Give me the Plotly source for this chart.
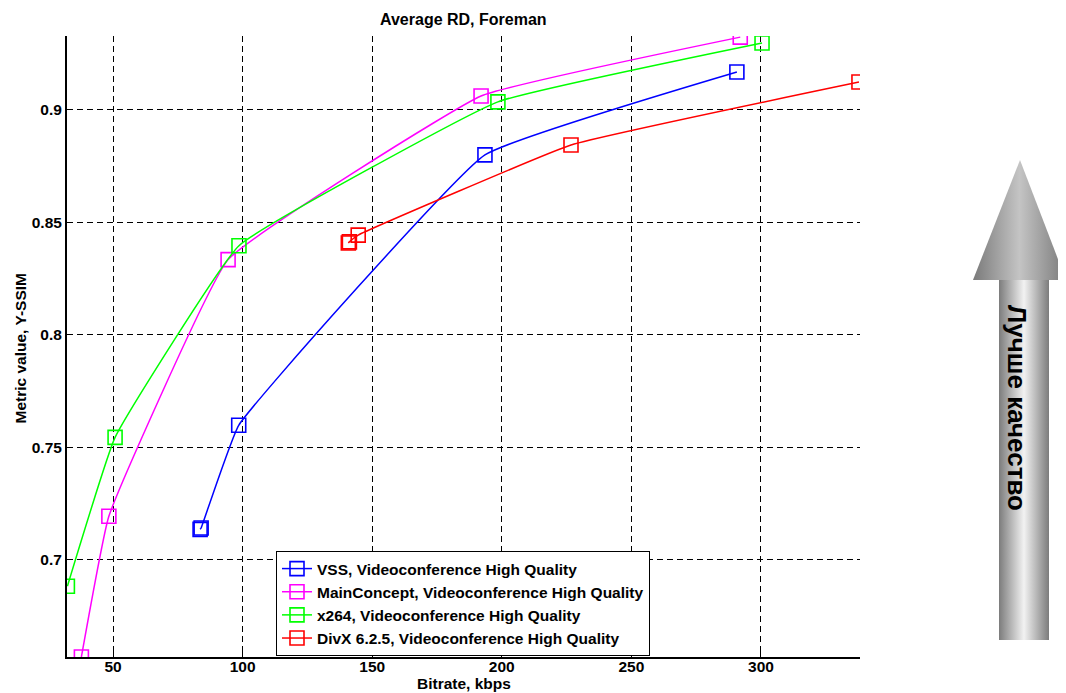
import plotly.graph_objects as go

# ---- data ----
vss_x = [83.6, 84.0, 98.5, 193.5, 290.7]
vss_y = [0.7134, 0.7140, 0.7597, 0.8800, 0.9169]
mc_x = [37.8, 48.4, 94.4, 192.0, 292.0]
mc_y = [0.6566, 0.7192, 0.8334, 0.9062, 0.9324]
x264_x = [32.4, 50.8, 98.6, 198.5, 300.4]
x264_y = [0.6881, 0.7543, 0.8396, 0.9036, 0.9298]
divx_x = [140.8, 141.2, 144.6, 226.7, 337.8]
divx_y = [0.8408, 0.8413, 0.8443, 0.8844, 0.9124]

series = [
    ("VSS, Videoconference High Quality", vss_x, vss_y, "#0000ff"),
    ("MainConcept, Videoconference High Quality", mc_x, mc_y, "#ff00ff"),
    ("x264, Videoconference High Quality", x264_x, x264_y, "#00ff00"),
    ("DivX 6.2.5, Videoconference High Quality", divx_x, divx_y, "#ff0000"),
]

x_ticks = [50, 100, 150, 200, 250, 300]
y_ticks = [0.7, 0.75, 0.8, 0.85, 0.9]
y_ticklabels = ["0.7", "0.75", "0.8", "0.85", "0.9"]

title_text = "Average RD, Foreman"
x_title = "Bitrate, kbps"
y_title = "Metric value, Y-SSIM"
arrow_text = "Лучше качество"

# page has an 8px body margin, so the figure is drawn offset by 8px
OFF = 8
W, H = 1066 - OFF, 693 - OFF
L, R, T, B = 67, 860, 36, 657  # plot area in window pixels
FONT = "Liberation Sans, Arial, sans-serif"


def px(x):
    return (x - OFF) / W


def py(y):
    return (H - (y - OFF)) / H


fig = go.Figure()

for name, xs, ys, col in series:
    fig.add_trace(go.Scatter(
        x=xs, y=ys, name=name, mode="lines+markers",
        line=dict(color=col, width=1.5, shape="spline", smoothing=0.3),
        marker=dict(symbol="square-open", size=14, color=col, line=dict(width=1.6, color=col)),
        xaxis="x", yaxis="y",
    ))

# arrow decoration in window-pixel space (overlay axes)
head_x = [973, 1020, 1066, 973]
head_y = [280, 160, 280, 280]
shaft_x = [999, 1049, 1049, 999, 999]
shaft_y = [280, 280, 640, 640, 280]
fig.add_trace(go.Scatter(
    x=shaft_x, y=shaft_y, fill="toself", mode="lines", line=dict(width=0),
    fillgradient=dict(type="horizontal", colorscale=[[0, "#7c7c7c"], [0.5, "#f2f2f2"], [1, "#7c7c7c"]]),
    xaxis="x2", yaxis="y2", showlegend=False, hoverinfo="skip"))
fig.add_trace(go.Scatter(
    x=head_x, y=head_y, fill="toself", mode="lines", line=dict(width=0),
    fillgradient=dict(type="horizontal", colorscale=[[0, "#7a7a7a"], [0.5, "#c4c4c4"], [1, "#7a7a7a"]]),
    xaxis="x2", yaxis="y2", showlegend=False, hoverinfo="skip"))

tickfont = dict(family=FONT, size=15.5, color="black", weight="bold")

fig.update_layout(
    width=W, height=H,
    margin=dict(l=0, r=0, t=0, b=0),
    paper_bgcolor="white", plot_bgcolor="rgba(0,0,0,0)",
    showlegend=True,
    xaxis=dict(
        domain=[px(L), px(R)], range=[32.25, 338.2],
        tickvals=x_ticks, ticks="inside", ticklen=5, tickcolor="black", tickwidth=1,
        showline=True, linecolor="black", linewidth=2,
        showgrid=True, gridcolor="black", gridwidth=1, griddash="6px,4px",
        zeroline=False, tickfont=tickfont, anchor="y", ticklabelstandoff=-6,
    ),
    yaxis=dict(
        domain=[py(B), py(T)], range=[0.6566, 0.9329],
        tickvals=y_ticks, ticktext=y_ticklabels, ticks="inside", ticklen=5, tickcolor="black", tickwidth=1,
        showline=True, linecolor="black", linewidth=2,
        showgrid=True, gridcolor="black", gridwidth=1, griddash="6px,4px",
        zeroline=False, tickfont=tickfont, anchor="x",
    ),
    xaxis2=dict(domain=[0, 1], range=[OFF, 1066], visible=False, fixedrange=True, anchor="y2"),
    yaxis2=dict(domain=[0, 1], range=[693, OFF], visible=False, fixedrange=True, anchor="x2"),
    legend=dict(
        x=px(276), y=py(551),
        xanchor="left", yanchor="top", xref="paper", yref="paper",
        bgcolor="white", bordercolor="black", borderwidth=1,
        font=dict(family=FONT, size=15.5, color="black", weight="bold"),
        tracegroupgap=0, itemwidth=30,
    ),
    annotations=[
        dict(text=title_text, x=px((L + R) / 2), y=py(19.5), xref="paper", yref="paper",
             xanchor="center", yanchor="middle",
             showarrow=False, font=dict(family=FONT, size=16, color="black", weight="bold")),
        dict(text=x_title, x=px((L + R) / 2), y=py(683.5), xref="paper", yref="paper",
             xanchor="center", yanchor="middle",
             showarrow=False, font=dict(family=FONT, size=15.5, color="black", weight="bold")),
        dict(text=y_title, x=px(19.5), y=py(349), xref="paper", yref="paper", textangle=-90,
             xanchor="center", yanchor="middle",
             showarrow=False, font=dict(family=FONT, size=15.5, color="black", weight="bold")),
        dict(text=arrow_text, x=px(1017), y=py(408), xref="paper", yref="paper", textangle=90,
             xanchor="center", yanchor="middle",
             showarrow=False, font=dict(family=FONT, size=26, color="black", weight="bold")),
    ],
)

fig.write_html("out.html")
